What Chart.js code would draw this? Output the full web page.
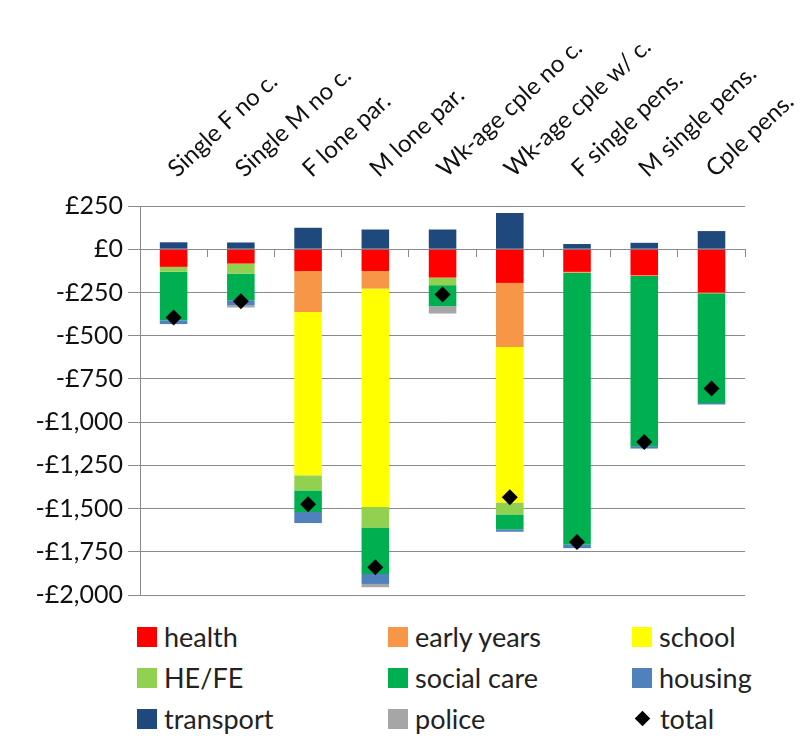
<!DOCTYPE html>
<html>
<head>
<meta charset="utf-8">
<script src="https://cdn.jsdelivr.net/npm/chart.js@4/dist/chart.umd.min.js"></script>
<style>
  body { margin: 0; background: #fff; font-family: Lato, sans-serif; }
  #wrap { position: relative; width: 810px; height: 615px; }
  #legend {
    display: grid;
    grid-template-columns: 251px 244px 170px;
    grid-auto-rows: 41px;
    margin-left: 137px;
    margin-top: 1px;
    font-size: 27px;
    color: #222;
  }
  #legend .item { display: flex; align-items: center; }
  #legend .box { width: 20px; height: 20px; margin-right: 7px; }
  #legend .dia { width: 11px; height: 11px; background: #000; transform: rotate(45deg); margin: 0 12px 0 5px; }
</style>
</head>
<body>
<div id="wrap"><canvas id="chart" width="810" height="615"></canvas></div>
<div id="legend"></div>
<script>
const categories = ["Single F no c.", "Single M no c.", "F lone par.", "M lone par.",
  "Wk-age cple no c.", "Wk-age cple w/ c.", "F single pens.", "M single pens.", "Cple pens."];

const health = [-102, -83, -126, -126, -164, -195, -131, -150, -250];
const earlyYears = [0, 0, -237, -102, 0, -370, -5, -5, -5];
const school = [0, 0, -945, -1263, 0, -900, 0, 0, 0];
const heFe = [-28, -58, -87, -119, -44, -69, 0, 0, 0];
const socialCare = [-281, -154, -125, -268, -122, -86, -1574, -984, -634];
const housing = [-22, -30, -64, -58, 0, -14, -19, -14, -9];
const transport = [40, 39, 124, 114, 114, 210, 30, 37, 105];
const police = [0, -12, 0, -19, -42, 0, 0, 0, 0];
const total = [-395, -301, -1475, -1839, -262, -1434, -1694, -1115, -806];

const yTicks = [250, 0, -250, -500, -750, -1000, -1250, -1500, -1750, -2000];

const gridGrey = '#8a8a8a';

function bar(label, data, color) {
  return { type: 'bar', label: label, data: data, backgroundColor: color, borderWidth: 0, stack: 'spend' };
}

const datasets = [
  bar('health', health, '#ff0000'),
  bar('early years', earlyYears, '#f79646'),
  bar('school', school, '#ffff00'),
  bar('HE/FE', heFe, '#92d050'),
  bar('social care', socialCare, '#00b050'),
  bar('housing', housing, '#4f81bd'),
  bar('transport', transport, '#1f497d'),
  bar('police', police, '#a6a6a6'),
  {
    type: 'line', label: 'total', data: total, stack: 'total', order: -1,
    showLine: false, pointStyle: 'rectRot', pointRadius: 8,
    backgroundColor: '#000', borderColor: '#000', borderWidth: 0
  }
];

const chart = new Chart(document.getElementById('chart'), {
  data: { labels: categories, datasets: datasets },
  options: {
    responsive: false,
    animation: false,
    layout: { padding: { left: 0, right: 62, top: 0, bottom: 20 } },
    datasets: { bar: { categoryPercentage: 1, barPercentage: 0.41 } },
    plugins: { legend: { display: false }, tooltip: { enabled: false } },
    scales: {
      x: {
        position: 'top',
        stacked: true,
        offset: true,
        grid: { display: false },
        border: { display: false },
        ticks: {
          minRotation: 43, maxRotation: 43, autoSkip: false, padding: 15, labelOffset: 18,
          color: '#111', font: { family: 'Lato', size: 24 }
        },
        afterFit: s => { s.height = 206; }
      },
      x2: {
        type: 'category',
        labels: categories,
        position: { y: 0 },
        offset: true,
        grid: { offset: true, drawOnChartArea: false, drawTicks: true, tickLength: 7, color: gridGrey },
        border: { display: true, color: gridGrey },
        ticks: { display: false }
      },
      y: {
        stacked: true,
        min: -2000, max: 250,
        afterBuildTicks: s => { s.ticks = yTicks.map(v => ({ value: v })); },
        grid: { color: gridGrey, tickLength: 12 },
        border: { color: gridGrey },
        ticks: {
          padding: 5, color: '#111', font: { family: 'Lato', size: 25 },
          callback: v => (v < 0 ? '-£' : '£') + Math.abs(v).toLocaleString('en-GB')
        },
        afterFit: s => { s.width = 140; }
      }
    }
  }
});

// legend laid out in three columns like the original
const legend = document.getElementById('legend');
chart.data.datasets.forEach(ds => {
  const item = document.createElement('div');
  item.className = 'item';
  const mark = document.createElement('span');
  if (ds.type === 'line') {
    mark.className = 'dia';
  } else {
    mark.className = 'box';
    mark.style.background = ds.backgroundColor;
  }
  item.appendChild(mark);
  item.appendChild(document.createTextNode(ds.label));
  legend.appendChild(item);
});
</script>
</body>
</html>
